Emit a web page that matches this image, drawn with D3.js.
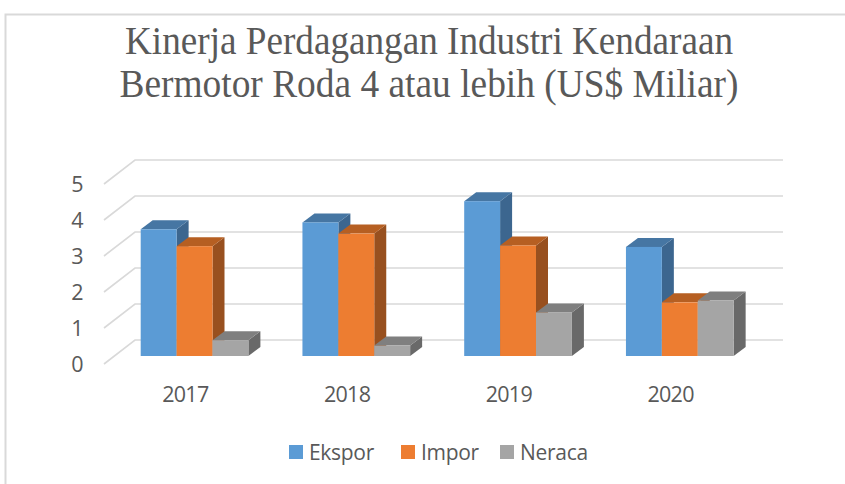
<!DOCTYPE html>
<html lang="en">
<head>
	<meta charset="UTF-8">
	<style>
	html, body { margin: 0; padding: 0; background: #fff; }
	svg { display: block; }
	</style>
	<script src="https://d3js.org/d3.v7.min.js"></script>
	<title>Kinerja Perdagangan</title>
</head>
<body>
	<div id="chart"></div>
	<script>
		const titleLines = ["Kinerja Perdagangan Industri Kendaraan", "Bermotor Roda 4 atau lebih (US$ Miliar)"];
		const years = ["2017", "2018", "2019", "2020"];
		const seriesNames = ["Ekspor", "Impor", "Neraca"];
		const ekspor = [3.52, 3.71, 4.3, 3.03];
		const impor = [3.05, 3.4, 3.07, 1.49];
		const neraca = [0.44, 0.29, 1.21, 1.54];
		const yTicks = [0, 1, 2, 3, 4, 5];

		const seriesValues = [ekspor, impor, neraca];
		const front = ["#5b9bd5", "#ed7d31", "#a5a5a5"];
		const tops = ["#4676a3", "#b65f22", "#7f7f7f"];
		const sides = ["#3c668f", "#98501f", "#696969"];

		const width = 845, height = 484;
		// the 3D box: how far the bars go back, and the depth of the whole floor
		const barDx = 12, barDy = 9;
		const wallDx = 31, wallDy = 24;

		const svg = d3.select("#chart").append("svg")
			.attr("width", width)
			.attr("height", height);

		// chart frame, only top and left are visible in the picture
		svg.append("path")
			.attr("d", "M5.5,484V14.5H845")
			.attr("fill", "none")
			.attr("stroke", "#d9d9d9")
			.attr("stroke-width", 2);

		const x = d3.scaleBand().domain(years).range([104, 751]);
		const y = d3.scaleLinear().domain([0, 5]).range([364, 184]);
		const inner = d3.scaleBand().domain(seriesNames).range([0, 107.7]);
		const barStart = year => x(year) + 36.7;

		// gridlines on the back wall and the left wall
		const grid = svg.append("g")
			.attr("fill", "none")
			.attr("stroke", "#d9d9d9")
			.attr("stroke-width", 1.6);
		grid.selectAll("path")
			.data(yTicks)
			.join("path")
			.attr("d", d => "M104," + y(d) + "L" + (104 + wallDx) + "," + (y(d) - wallDy) + "H783");

		// bars, drawn left to right so each one covers the side of the one before
		const baseY = y(0) - 8;
		const bars = svg.append("g");
		years.forEach(function(year, i) {
			seriesNames.forEach(function(name, s) {
				const x0 = barStart(year) + inner(name);
				const x1 = x0 + inner.bandwidth();
				const yTop = y(seriesValues[s][i]) - 8;
				const g = bars.append("g");
				g.append("path")
					.attr("fill", sides[s])
					.attr("d", "M" + x1 + "," + yTop + "l" + barDx + "," + (-barDy) + "V" + (baseY - barDy) + "L" + x1 + "," + baseY + "Z");
				g.append("path")
					.attr("fill", tops[s])
					.attr("d", "M" + x0 + "," + yTop + "l" + barDx + "," + (-barDy) + "H" + (x1 + barDx) + "L" + x1 + "," + yTop + "Z");
				g.append("rect")
					.attr("x", x0)
					.attr("y", yTop)
					.attr("width", inner.bandwidth())
					.attr("height", baseY - yTop)
					.attr("fill", front[s]);
			});
		});

		// axes
		const textColor = "#595959";
		const yAxis = svg.append("g")
			.attr("transform", "translate(83.5,1)")
			.call(d3.axisLeft(y).tickValues(yTicks).tickSize(0).tickPadding(0).tickFormat(d3.format("d")));
		yAxis.select(".domain").remove();
		yAxis.selectAll("text")
			.attr("fill", textColor)
			.style("font", "21.5px 'Open Sans'");

		const xAxis = svg.append("g")
			.attr("transform", "translate(0.5,387)")
			.call(d3.axisBottom(x).tickSize(0).tickPadding(0));
		xAxis.select(".domain").remove();
		xAxis.selectAll("text")
			.attr("fill", textColor)
			.style("font", "21.5px 'Open Sans'")
			.style("letter-spacing", "-0.7px");

		// title
		svg.append("g")
			.selectAll("text")
			.data(titleLines)
			.join("text")
			.attr("x", 429)
			.attr("y", (d, i) => 53.5 + i * 43)
			.attr("text-anchor", "middle")
			.attr("fill", textColor)
			.attr("textLength", (d, i) => i === 0 ? 608 : 619)
			.attr("lengthAdjust", "spacingAndGlyphs")
			.style("font", "40px 'Liberation Serif'")
			.text(d => d);

		// legend
		const legendX = [289, 401, 500];
		const legend = svg.append("g")
			.selectAll("g")
			.data(seriesNames)
			.join("g")
			.attr("transform", (d, i) => "translate(" + legendX[i] + ",460)");
		legend.append("rect")
			.attr("y", -15)
			.attr("width", 14)
			.attr("height", 14)
			.attr("fill", (d, i) => front[i]);
		legend.append("text")
			.attr("x", 20)
			.attr("y", 0)
			.attr("fill", textColor)
			.style("font", "21px 'Open Sans'")
			.style("letter-spacing", "-0.3px")
			.text(d => d);
	</script>
</body>
</html>
